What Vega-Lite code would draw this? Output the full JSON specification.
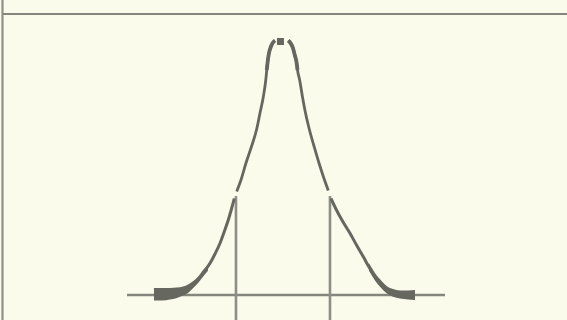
{
  "$schema": "https://vega.github.io/schema/vega-lite/v6.json",
  "width": 567,
  "height": 320,
  "autosize": {"type": "fit", "contains": "padding"},
  "padding": 0,
  "background": "#fafbea",
  "config": {"view": {"stroke": null}},
  "datasets": {
    "rules": [
      {"kind": "frameTop", "x": -5.968, "x2": 6.043, "y": 1.0934, "y2": 1.0934},
      {"kind": "frameLeft", "x": -5.968, "x2": -5.968, "y": 1.1479, "y2": -0.0973},
      {"kind": "baseline", "x": -3.319, "x2": 3.447, "y": 0, "y2": 0},
      {"kind": "sigma", "x": -1, "x2": -1, "y": 0.385, "y2": -0.0973},
      {"kind": "sigma", "x": 1, "x2": 1, "y": 0.385, "y2": -0.0973}
    ],
    "bands": [
      {"seg": "lt", "x": -2.745, "y": 0.0272, "y2": -0.0214},
      {"seg": "lt", "x": -2.574, "y": 0.0272, "y2": -0.0214},
      {"seg": "lt", "x": -2.404, "y": 0.0272, "y2": -0.0175},
      {"seg": "lt", "x": -2.255, "y": 0.0292, "y2": -0.0117},
      {"seg": "lt", "x": -2.128, "y": 0.0331, "y2": -0.0019},
      {"seg": "lt", "x": -2.021, "y": 0.0409, "y2": 0.0078},
      {"seg": "lt", "x": -1.915, "y": 0.0535, "y2": 0.0263},
      {"seg": "lt", "x": -1.809, "y": 0.071, "y2": 0.0457},
      {"seg": "lt", "x": -1.702, "y": 0.0963, "y2": 0.071},
      {"seg": "lt", "x": -1.596, "y": 0.1177, "y2": 0.0944},
      {"seg": "rt", "x": 1.83, "y": 0.1235, "y2": 0.0944},
      {"seg": "rt", "x": 1.957, "y": 0.0858, "y2": 0.0566},
      {"seg": "rt", "x": 2.085, "y": 0.0574, "y2": 0.0282},
      {"seg": "rt", "x": 2.213, "y": 0.0342, "y2": 0.0057},
      {"seg": "rt", "x": 2.34, "y": 0.0233, "y2": -0.0068},
      {"seg": "rt", "x": 2.489, "y": 0.0175, "y2": -0.0136},
      {"seg": "rt", "x": 2.66, "y": 0.0175, "y2": -0.0175},
      {"seg": "rt", "x": 2.809, "y": 0.0195, "y2": -0.0195},
      {"seg": "peak", "x": -0.128, "y": 1.0, "y2": 0.9728},
      {"seg": "peak", "x": 0.021, "y": 1.0, "y2": 0.9728}
    ],
    "curve": [
      {"seg": "ul", "part": "upper", "arc": false, "x": -0.985, "y": 0.4027},
      {"seg": "ul", "part": "upper", "arc": false, "x": -0.894, "y": 0.4475},
      {"seg": "ul", "part": "upper", "arc": false, "x": -0.787, "y": 0.5136},
      {"seg": "ul", "part": "upper", "arc": false, "x": -0.67, "y": 0.5778},
      {"seg": "ul", "part": "upper", "arc": false, "x": -0.564, "y": 0.642},
      {"seg": "ul", "part": "upper", "arc": false, "x": -0.489, "y": 0.7082},
      {"seg": "ul", "part": "upper", "arc": false, "x": -0.419, "y": 0.7704},
      {"seg": "ul", "part": "upper", "arc": false, "x": -0.366, "y": 0.8366},
      {"seg": "ul", "part": "upper", "arc": true, "x": -0.345, "y": 0.8755},
      {"seg": "ul", "part": "upper", "arc": true, "x": -0.334, "y": 0.8949},
      {"seg": "ul", "part": "upper", "arc": true, "x": -0.302, "y": 0.9377},
      {"seg": "ul", "part": "upper", "arc": true, "x": -0.26, "y": 0.965},
      {"seg": "ul", "part": "upper", "arc": true, "x": -0.213, "y": 0.9825},
      {"seg": "ul", "part": "upper", "arc": true, "x": -0.17, "y": 0.9903},
      {"seg": "ur", "part": "upper", "arc": true, "x": 0.113, "y": 0.9903},
      {"seg": "ur", "part": "upper", "arc": true, "x": 0.16, "y": 0.9805},
      {"seg": "ur", "part": "upper", "arc": true, "x": 0.209, "y": 0.963},
      {"seg": "ur", "part": "upper", "arc": true, "x": 0.251, "y": 0.9339},
      {"seg": "ur", "part": "upper", "arc": true, "x": 0.291, "y": 0.9027},
      {"seg": "ur", "part": "upper", "arc": true, "x": 0.309, "y": 0.8755},
      {"seg": "ur", "part": "upper", "arc": false, "x": 0.355, "y": 0.8366},
      {"seg": "ur", "part": "upper", "arc": false, "x": 0.415, "y": 0.7704},
      {"seg": "ur", "part": "upper", "arc": false, "x": 0.479, "y": 0.7082},
      {"seg": "ur", "part": "upper", "arc": false, "x": 0.564, "y": 0.642},
      {"seg": "ur", "part": "upper", "arc": false, "x": 0.66, "y": 0.5798},
      {"seg": "ur", "part": "upper", "arc": false, "x": 0.766, "y": 0.5136},
      {"seg": "ur", "part": "upper", "arc": false, "x": 0.862, "y": 0.4591},
      {"seg": "ur", "part": "upper", "arc": false, "x": 0.964, "y": 0.4066},
      {"seg": "ll", "part": "lower", "arc": false, "x": -1.702, "y": 0.0856},
      {"seg": "ll", "part": "lower", "arc": false, "x": -1.553, "y": 0.1233},
      {"seg": "ll", "part": "lower", "arc": false, "x": -1.447, "y": 0.1595},
      {"seg": "ll", "part": "lower", "arc": false, "x": -1.34, "y": 0.2012},
      {"seg": "ll", "part": "lower", "arc": false, "x": -1.245, "y": 0.249},
      {"seg": "ll", "part": "lower", "arc": false, "x": -1.164, "y": 0.2918},
      {"seg": "ll", "part": "lower", "arc": false, "x": -1.096, "y": 0.3346},
      {"seg": "ll", "part": "lower", "arc": false, "x": -1.036, "y": 0.3755},
      {"seg": "lr", "part": "lower", "arc": false, "x": 1.021, "y": 0.3755},
      {"seg": "lr", "part": "lower", "arc": false, "x": 1.096, "y": 0.3463},
      {"seg": "lr", "part": "lower", "arc": false, "x": 1.177, "y": 0.3171},
      {"seg": "lr", "part": "lower", "arc": false, "x": 1.298, "y": 0.2782},
      {"seg": "lr", "part": "lower", "arc": false, "x": 1.426, "y": 0.2401},
      {"seg": "lr", "part": "lower", "arc": false, "x": 1.564, "y": 0.1946},
      {"seg": "lr", "part": "lower", "arc": false, "x": 1.709, "y": 0.149},
      {"seg": "lr", "part": "lower", "arc": false, "x": 1.83, "y": 0.1089},
      {"seg": "lr", "part": "lower", "arc": false, "x": 1.894, "y": 0.0895}
    ]
  },
  "layer": [
    {
      "data": {"name": "rules"},
      "mark": {"type": "rule", "clip": true},
      "encoding": {
        "x": {"field": "x", "type": "quantitative", "scale": {"domain": [-6.021, 6.043], "nice": false, "zero": false}, "axis": null},
        "x2": {"field": "x2"},
        "y": {"field": "y", "type": "quantitative", "scale": {"domain": [-0.0973, 1.1479], "nice": false, "zero": false}, "axis": null},
        "y2": {"field": "y2"},
        "strokeWidth": {"field": "kind", "type": "nominal", "scale": {"domain": ["frameTop", "frameLeft", "baseline", "sigma"], "range": [2, 3, 1, 1]}, "legend": null},
        "color": {"field": "kind", "type": "nominal", "scale": {"domain": ["frameTop", "frameLeft", "baseline", "sigma"], "range": ["#85867d", "#8e8f86", "#85867e", "#8d8e86"]}, "legend": null}
      }
    },
    {
      "data": {"name": "bands"},
      "mark": {"type": "area", "orient": "vertical", "interpolate": "monotone", "color": "#66675f"},
      "encoding": {
        "x": {"field": "x", "type": "quantitative", "scale": {"domain": [-6.021, 6.043], "nice": false, "zero": false}, "axis": null},
        "y": {"field": "y", "type": "quantitative", "scale": {"domain": [-0.0973, 1.1479], "nice": false, "zero": false}, "axis": null},
        "y2": {"field": "y2"},
        "detail": {"field": "seg", "type": "nominal"}
      }
    },
    {
      "data": {"name": "curve"},
      "mark": {"type": "line", "interpolate": "monotone", "color": "#66675f", "strokeCap": "butt"},
      "encoding": {
        "x": {"field": "x", "type": "quantitative", "scale": {"domain": [-6.021, 6.043], "nice": false, "zero": false}, "axis": null},
        "y": {"field": "y", "type": "quantitative", "scale": {"domain": [-0.0973, 1.1479], "nice": false, "zero": false}, "axis": null},
        "detail": {"field": "seg", "type": "nominal"},
        "strokeWidth": {"field": "part", "type": "nominal", "scale": {"domain": ["upper", "lower"], "range": [1.8, 3]}, "legend": null}
      }
    },
    {
      "data": {"name": "curve"},
      "transform": [{"filter": "datum.arc"}],
      "mark": {"type": "line", "interpolate": "monotone", "color": "#66675f", "strokeWidth": 3.8, "strokeCap": "butt"},
      "encoding": {
        "x": {"field": "x", "type": "quantitative", "scale": {"domain": [-6.021, 6.043], "nice": false, "zero": false}, "axis": null},
        "y": {"field": "y", "type": "quantitative", "scale": {"domain": [-0.0973, 1.1479], "nice": false, "zero": false}, "axis": null},
        "detail": {"field": "seg", "type": "nominal"}
      }
    }
  ]
}
